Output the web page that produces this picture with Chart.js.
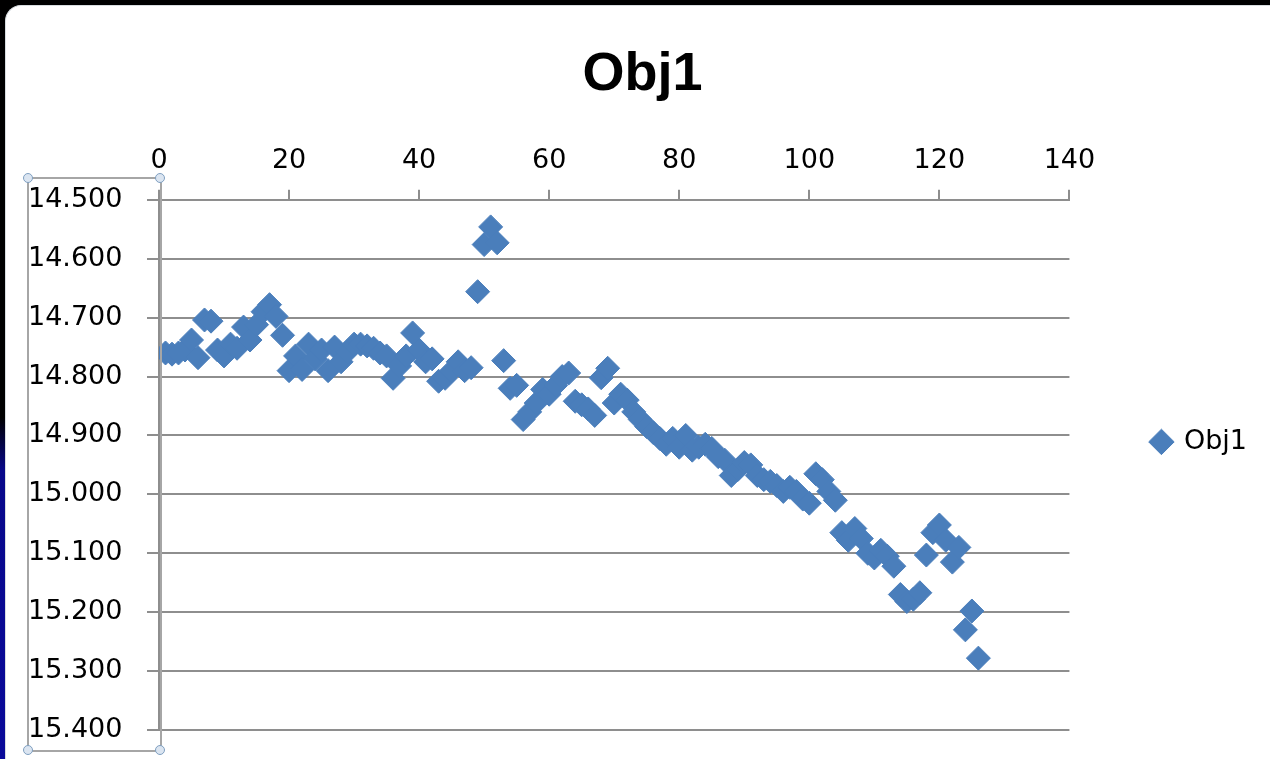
<!DOCTYPE html>
<html>
<head>
<meta charset="utf-8">
<script src="https://cdn.jsdelivr.net/npm/chart.js@4/dist/chart.umd.min.js"></script>
<style>
  html, body { margin: 0; padding: 0; background: #000; overflow: hidden; }
  #page { position: relative; width: 1270px; height: 759px; }
  #edge { position: absolute; left: 0; top: 0; width: 8px; height: 759px;
          background: linear-gradient(to bottom, #000 0%, #000 55%, #08088a 62%, #0a0a9a 100%); }
  #sheet { position: absolute; left: 5px; top: 5px; width: 1265px; height: 754px;
           background: #fff; border-top-left-radius: 16px; border-left: 1px solid #d8dde0; border-top: 1px solid #d8dde0; }
  canvas { position: absolute; left: 0; top: 0; }
  #sel { position: absolute; left: 27px; top: 177px; width: 131px; height: 571px;
         border: 2px solid #a6a6a6; pointer-events: none; }
  .h { position: absolute; width: 8px; height: 8px; border-radius: 50%;
       background: #dbe5f1; border: 1.5px solid #7f9fc0; }
</style>
</head>
<body>
<div id="page">
  <div id="edge"></div>
  <div id="sheet"></div>
  <canvas id="chart" width="1270" height="759"></canvas>
  <div id="sel"></div>
  <div class="h" style="left:23px;top:173px"></div>
  <div class="h" style="left:155px;top:173px"></div>
  <div class="h" style="left:23px;top:745px"></div>
  <div class="h" style="left:155px;top:745px"></div>
</div>
<script>
const seriesName = "Obj1";

const sampleNo = [
  1, 2, 3, 4, 5, 6, 7, 8, 9, 10, 11, 12, 13, 14, 15, 16, 17, 18, 19, 20,
  21, 22, 23, 24, 25, 26, 27, 28, 29, 30, 31, 32, 33, 34, 35, 36, 37, 38, 39, 40,
  41, 42, 43, 44, 45, 46, 47, 48, 49, 50, 51, 52, 53, 54, 55, 56, 57, 58, 59, 60,
  61, 62, 63, 64, 65, 66, 67, 68, 69, 70, 71, 72, 73, 74, 75, 76, 77, 78, 79, 80,
  81, 82, 83, 84, 85, 86, 87, 88, 89, 90, 91, 92, 93, 94, 95, 96, 97, 98, 99, 100,
  101, 102, 103, 104, 105, 106, 107, 108, 109, 110, 111, 112, 113, 114, 115, 116, 117, 118, 119, 120,
  121, 122, 123, 124, 125, 126
];

const obj1 = [
  14.760, 14.762, 14.760, 14.755, 14.738, 14.768, 14.704, 14.706, 14.755, 14.765,
  14.745, 14.752, 14.716, 14.738, 14.712, 14.690, 14.678, 14.698, 14.730, 14.790,
  14.765, 14.788, 14.745, 14.770, 14.755, 14.790, 14.750, 14.775, 14.758, 14.745,
  14.745, 14.748, 14.752, 14.760, 14.765, 14.803, 14.782, 14.765, 14.726, 14.755,
  14.775, 14.770, 14.808, 14.803, 14.790, 14.775, 14.790, 14.785, 14.656, 14.576,
  14.546, 14.573, 14.773, 14.820, 14.815, 14.873, 14.860, 14.845, 14.822, 14.830,
  14.815, 14.800, 14.794, 14.842, 14.848, 14.855, 14.866, 14.802, 14.786, 14.845,
  14.830, 14.840, 14.860, 14.873, 14.885, 14.895, 14.905, 14.915, 14.905, 14.920,
  14.900, 14.925, 14.920, 14.915, 14.922, 14.936, 14.942, 14.968, 14.958, 14.946,
  14.950, 14.968, 14.975, 14.978, 14.985, 14.995, 14.988, 14.995, 15.008, 15.015,
  14.965, 14.975, 14.995, 15.010, 15.065, 15.078, 15.058, 15.075, 15.100, 15.108,
  15.095, 15.105, 15.122, 15.170, 15.182, 15.178, 15.167, 15.103, 15.065, 15.052,
  15.078, 15.115, 15.090, 15.230, 15.198, 15.278
];

// axis ranges as shown
const xMin = 0, xMax = 140, xStep = 20;
const yMin = 14.5, yMax = 15.4, yStep = 0.1;

const blue = "#4a7ebb";
const gridGray = "#8e8e8e";

// nudge the legend up a bit, Excel centres it a little higher than the plot
const legendShift = {
  id: "legendShift",
  afterLayout(chart) {
    if (chart.legend) chart.legend.top -= 46;
  }
};

new Chart(document.getElementById("chart"), {
  type: "scatter",
  data: {
    datasets: [{
      label: seriesName,
      data: sampleNo.map((x, i) => ({ x, y: obj1[i] })),
      backgroundColor: blue,
      borderColor: blue,
      borderWidth: 1,
      pointStyle: "rectRot",
      pointRadius: 12,
      pointHoverRadius: 12
    }]
  },
  options: {
    responsive: false,
    animation: false,
    layout: { padding: { left: 28, top: 15, right: 13, bottom: 29 } },
    plugins: {
      title: {
        display: true,
        text: seriesName,
        color: "#000",
        font: { family: "'Liberation Sans', Arial, sans-serif", size: 54, weight: "bold" },
        padding: { top: 28, bottom: 34 }
      },
      legend: {
        position: "right",
        fullSize: false,
        labels: {
          usePointStyle: true,
          boxWidth: 18,
          boxHeight: 18,
          padding: 83,
          color: "#000",
          font: { family: "'DejaVu Sans', sans-serif", size: 27 }
        }
      },
      tooltip: { enabled: false }
    },
    scales: {
      x: {
        type: "linear",
        position: "top",
        min: xMin,
        max: xMax,
        afterFit(scale) { scale.height = 58; },
        ticks: {
          stepSize: xStep,
          padding: 13,
          color: "#000",
          font: { family: "'DejaVu Sans', sans-serif", size: 27 }
        },
        grid: { drawOnChartArea: false, drawTicks: true, tickLength: 10, color: gridGray, lineWidth: 2 },
        border: { display: true, color: gridGray, width: 2 }
      },
      y: {
        type: "linear",
        reverse: true,
        min: yMin,
        max: yMax,
        afterFit(scale) { scale.width = 131; },
        ticks: {
          stepSize: yStep,
          crossAlign: "far",
          color: "#000",
          font: { family: "'DejaVu Sans', sans-serif", size: 27 },
          callback: v => Number(v).toFixed(3)
        },
        grid: { color: gridGray, lineWidth: 2, tickLength: 12 },
        border: { display: true, color: gridGray, width: 2 }
      }
    }
  },
  plugins: [legendShift]
});
</script>
</body>
</html>
